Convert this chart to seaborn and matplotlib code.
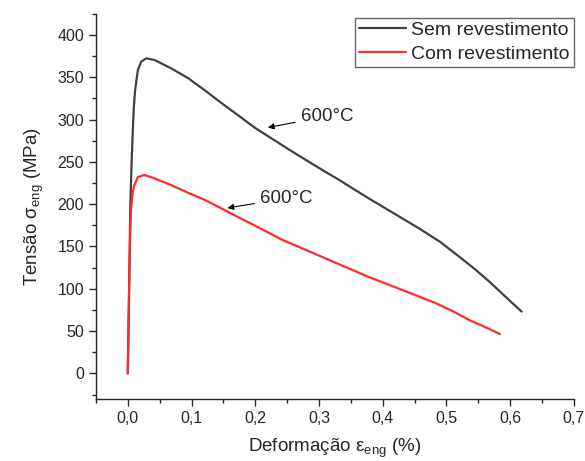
import numpy as np
import pandas as pd
import matplotlib
matplotlib.use("Agg")
import matplotlib.pyplot as plt
from matplotlib.ticker import MultipleLocator, FuncFormatter
import seaborn as sns

# Curves (strain, stress in MPa)
strain_sem = [0.0, 0.002, 0.004, 0.006, 0.008, 0.0095, 0.0115, 0.0158, 0.021, 0.0289,
              0.042, 0.068, 0.0946, 0.121, 0.147, 0.175, 0.200, 0.226, 0.252, 0.280,
              0.305, 0.331, 0.352, 0.380, 0.410, 0.435, 0.457, 0.490, 0.520, 0.545,
              0.568, 0.595, 0.618]
stress_sem = [0, 100, 200, 250, 290, 315, 335, 358.6, 368.4, 372.4,
              370.4, 360.6, 349, 334.5, 319.5, 304, 290, 277.5, 265, 252,
              240.5, 229, 219, 206, 192.5, 181.3, 171.4, 155.5, 138, 123,
              108, 89, 73]

strain_com = [0.0, 0.0015, 0.0026, 0.004, 0.005, 0.007, 0.0095, 0.0158, 0.026, 0.042,
              0.068, 0.0946, 0.121, 0.147, 0.175, 0.200, 0.242, 0.273, 0.330, 0.378,
              0.430, 0.484, 0.510, 0.536, 0.560, 0.584]
stress_com = [0, 70, 122, 170, 193, 210, 220.7, 232, 234.5, 230.5,
              222.6, 213.5, 205, 195, 184, 174.5, 158, 148, 129.5, 114,
              98.8, 82.8, 73.5, 63, 55, 46.5]

series_names = ["Sem revestimento", "Com revestimento"]
series_colors = ["#404040", "#ff2a2a"]
label_temp = "600°C"

df = pd.concat([
    pd.DataFrame({"strain": strain_sem, "stress": stress_sem, "serie": series_names[0]}),
    pd.DataFrame({"strain": strain_com, "stress": stress_com, "serie": series_names[1]}),
])

sns.set_style("ticks")
plt.rcParams["font.family"] = ["Liberation Sans", "DejaVu Sans"]
plt.rcParams["mathtext.fontset"] = "custom"
plt.rcParams["mathtext.rm"] = "Liberation Sans"
plt.rcParams["mathtext.it"] = "Liberation Sans"

fig, ax = plt.subplots(figsize=(5.85, 4.61), dpi=100)
fig.subplots_adjust(left=0.164, right=0.981, bottom=0.135, top=0.97)

sns.lineplot(data=df, x="strain", y="stress", hue="serie", hue_order=series_names,
             palette=series_colors, sort=False, estimator=None, linewidth=1.6, ax=ax)

ax.set_xlim(-0.05, 0.7)
ax.set_ylim(-30, 425)
ax.xaxis.set_major_locator(MultipleLocator(0.1))
ax.xaxis.set_minor_locator(MultipleLocator(0.05))
ax.yaxis.set_major_locator(MultipleLocator(50))
ax.yaxis.set_minor_locator(MultipleLocator(25))
ax.xaxis.set_major_formatter(FuncFormatter(lambda v, p: f"{v:.1f}".replace(".", ",").replace("-0,0", "0,0")))
ax.tick_params(which="major", length=5, width=1, labelsize=11.5, direction="out")
ax.tick_params(which="minor", length=3, width=1, direction="out")
for s in ["top", "right"]:
    ax.spines[s].set_visible(False)
for s in ["left", "bottom"]:
    ax.spines[s].set_linewidth(1.0)

ax.set_xlabel(r"Deformação ε$_{\mathrm{eng}}$ (%)", fontsize=13.5, labelpad=8)
ax.set_ylabel(r"Tensão σ$_{\mathrm{eng}}$ (MPa)", fontsize=13.5, labelpad=8)

arrow = dict(arrowstyle="-|>", color="black", lw=0.8, mutation_scale=9)
ax.annotate(label_temp, xy=(0.2155, 290), xytext=(0.272, 304), fontsize=13.5,
            va="center", ha="left", arrowprops=arrow)
ax.annotate(label_temp, xy=(0.152, 195), xytext=(0.208, 207), fontsize=13.5,
            va="center", ha="left", arrowprops=arrow)

leg = ax.legend(loc="upper right", bbox_to_anchor=(1.0, 0.99), fontsize=14,
                frameon=True, fancybox=False, edgecolor="#404040",
                handlelength=2.4, handletextpad=0.3, labelspacing=0.3,
                borderpad=0.2, borderaxespad=0.0)
leg.get_frame().set_linewidth(1.0)
leg.set_title(None)

fig.savefig("out.png", dpi=100)
